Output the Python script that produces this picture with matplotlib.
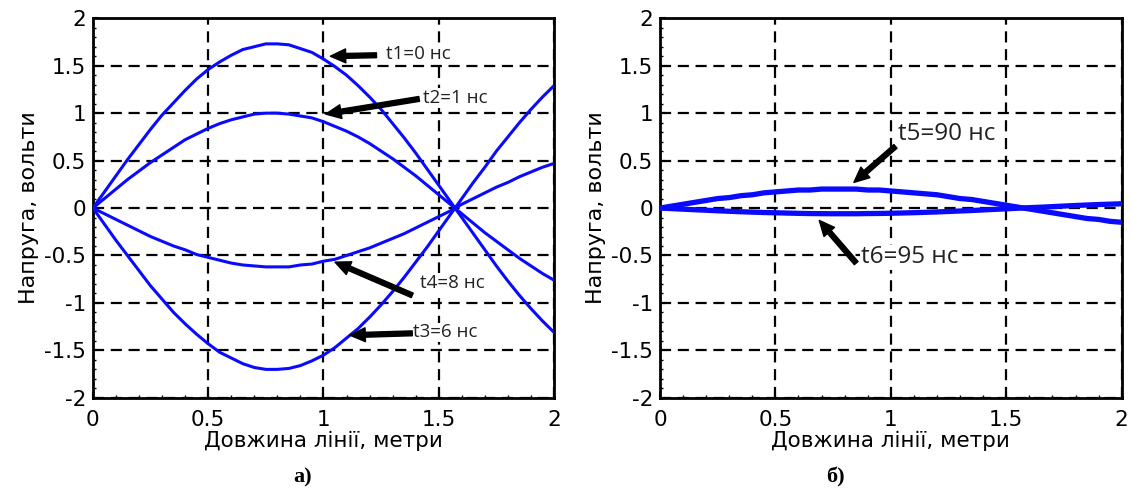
import numpy as np
import matplotlib
matplotlib.use('Agg')
import matplotlib.pyplot as plt
from matplotlib.ticker import MultipleLocator

# distance along the line, metres
x_m = [0.00, 0.05, 0.10, 0.15, 0.20, 0.25, 0.30, 0.35, 0.40, 0.45,
       0.50, 0.55, 0.60, 0.65, 0.70, 0.75, 0.80, 0.85, 0.90, 0.95,
       1.00, 1.05, 1.10, 1.15, 1.20, 1.25, 1.30, 1.35, 1.40, 1.45,
       1.50, 1.55, 1.60, 1.65, 1.70, 1.75, 1.80, 1.85, 1.90, 1.95, 2.00]

# voltage read off panel a)
v_t1 = [0, 0.17, 0.34, 0.51, 0.67, 0.83, 0.98, 1.11, 1.24, 1.36,
        1.46, 1.54, 1.61, 1.67, 1.70, 1.73, 1.73, 1.72, 1.68, 1.64,
        1.57, 1.49, 1.40, 1.29, 1.17, 1.04, 0.89, 0.74, 0.58, 0.41,
        0.24, 0.07, -0.10, -0.27, -0.44, -0.61, -0.77, -0.92, -1.06, -1.19, -1.31]
v_t2 = [0, 0.10, 0.20, 0.30, 0.39, 0.48, 0.56, 0.64, 0.72, 0.78,
        0.84, 0.89, 0.93, 0.96, 0.99, 1.00, 1.00, 0.99, 0.97, 0.95,
        0.91, 0.86, 0.81, 0.75, 0.68, 0.60, 0.52, 0.43, 0.34, 0.24,
        0.14, 0.04, -0.06, -0.16, -0.26, -0.35, -0.44, -0.53, -0.61, -0.69, -0.76]
v_t3 = [0, -0.17, -0.34, -0.50, -0.66, -0.82, -0.96, -1.10, -1.22, -1.33,
        -1.43, -1.52, -1.58, -1.64, -1.68, -1.70, -1.70, -1.69, -1.66, -1.61,
        -1.55, -1.47, -1.37, -1.27, -1.15, -1.02, -0.88, -0.73, -0.57, -0.41,
        -0.24, -0.07, 0.10, 0.27, 0.43, 0.60, 0.75, 0.90, 1.04, 1.17, 1.29]
v_t4 = [0, -0.06, -0.12, -0.18, -0.24, -0.30, -0.35, -0.40, -0.44, -0.49,
        -0.52, -0.55, -0.58, -0.60, -0.61, -0.62, -0.62, -0.62, -0.60, -0.59,
        -0.56, -0.54, -0.50, -0.46, -0.42, -0.37, -0.32, -0.27, -0.21, -0.15,
        -0.09, -0.03, 0.04, 0.10, 0.16, 0.22, 0.27, 0.33, 0.38, 0.43, 0.47]

# voltage read off panel б)
v_t5 = [0, 0.02, 0.04, 0.06, 0.08, 0.10, 0.11, 0.13, 0.14, 0.16,
        0.17, 0.18, 0.19, 0.19, 0.20, 0.20, 0.20, 0.20, 0.19, 0.19,
        0.18, 0.17, 0.16, 0.15, 0.14, 0.12, 0.10, 0.09, 0.07, 0.05,
        0.03, 0.01, -0.01, -0.03, -0.05, -0.07, -0.09, -0.11, -0.12, -0.14, -0.15]
v_t6 = [0, -0.006, -0.012, -0.018, -0.023, -0.029, -0.034, -0.039, -0.043, -0.047,
        -0.050, -0.053, -0.056, -0.058, -0.059, -0.060, -0.060, -0.060, -0.058, -0.057,
        -0.055, -0.052, -0.049, -0.045, -0.041, -0.036, -0.031, -0.026, -0.020, -0.014,
        -0.008, -0.002, 0.004, 0.009, 0.015, 0.021, 0.027, 0.032, 0.037, 0.041, 0.045]

labels_a = ['t1=0 нс', 't2=1 нс', 't3=6 нс', 't4=8 нс']
labels_b = ['t5=90 нс', 't6=95 нс']
x_ticks = [0, 0.5, 1, 1.5, 2]
x_ticklabels = ['0', '0.5', '1', '1.5', '2']
y_ticks = [-2, -1.5, -1, -0.5, 0, 0.5, 1, 1.5, 2]
y_ticklabels = ['-2', '-1.5', '-1', '-0.5', '0', '0.5', '1', '1.5', '2']

plt.rcParams['font.family'] = ['DejaVu Sans']

fig = plt.figure(figsize=(11.33, 4.93), dpi=100)
ax1 = fig.add_axes([0.082, 0.193, 0.407, 0.770])
ax2 = fig.add_axes([0.5825, 0.193, 0.4075, 0.770])

BLUE = '#0a0aff'


def style(ax):
    ax.set_xlim(0, 2)
    ax.set_ylim(-2, 2)
    ax.set_xticks(x_ticks)
    ax.set_xticklabels(x_ticklabels)
    ax.set_yticks(y_ticks)
    ax.set_yticklabels(y_ticklabels)
    ax.xaxis.set_minor_locator(MultipleLocator(0.1))
    ax.yaxis.set_minor_locator(MultipleLocator(0.1))
    ax.tick_params(which='major', direction='in', length=4, width=1.5,
                   labelsize=15.5)
    ax.tick_params(axis='x', which='major', pad=9)
    ax.tick_params(axis='y', which='major', pad=5)
    ax.tick_params(which='minor', direction='in', length=2, width=1)
    ax.grid(True, which='major', color='black', linestyle=(0, (5, 3)), linewidth=1.6)
    for sp in ax.spines.values():
        sp.set_linewidth(2)
    ax.set_xlabel('Довжина лінії, метри', fontsize=15.5, labelpad=0)
    ax.set_ylabel('Напруга, вольти', fontsize=16, labelpad=4)


style(ax1)
style(ax2)

for v in (v_t1, v_t2, v_t3, v_t4):
    ax1.plot(x_m, v, color=BLUE, linewidth=2.2, zorder=3)
for v in (v_t5, v_t6):
    ax2.plot(x_m, v, color=BLUE, linewidth=3.8, zorder=3)

arrow = dict(facecolor='black', edgecolor='black', width=3.5, headwidth=10,
             headlength=11, shrink=0)
txt = dict(family=['Open Sans', 'DejaVu Sans'], color='#222222', va='center',
           zorder=5, bbox=dict(facecolor='white', edgecolor='none', pad=0.5))

# arrow tip -> tail, then label
ax1.annotate('', xy=(1.03, 1.60), xytext=(1.23, 1.61), arrowprops=arrow, zorder=4)
ax1.text(1.27, 1.62, labels_a[0], fontsize=13.5, **txt)
ax1.annotate('', xy=(1.01, 0.99), xytext=(1.415, 1.15), arrowprops=arrow, zorder=4)
ax1.text(1.43, 1.16, labels_a[1], fontsize=13.5, **txt)
ax1.annotate('', xy=(1.115, -1.34), xytext=(1.385, -1.32), arrowprops=arrow, zorder=4)
ax1.text(1.39, -1.31, labels_a[2], fontsize=13.5, **txt)
ax1.annotate('', xy=(1.05, -0.57), xytext=(1.385, -0.92), arrowprops=arrow, zorder=4)
ax1.text(1.42, -0.79, labels_a[3], fontsize=13.5, **txt)

ax2.annotate('', xy=(0.84, 0.27), xytext=(1.02, 0.65), arrowprops=arrow, zorder=4)
ax2.text(1.03, 0.78, labels_b[0], fontsize=17.5, **txt)
ax2.annotate('', xy=(0.69, -0.13), xytext=(0.85, -0.58), arrowprops=arrow, zorder=4)
ax2.text(0.87, -0.52, labels_b[1], fontsize=17.5, **txt)

serif = ['Liberation Serif', 'DejaVu Serif']
fig.text(0.267, 0.032, 'а)', fontsize=16, fontweight='bold', family=serif,
         ha='center', va='center')
fig.text(0.737, 0.032, 'б)', fontsize=16, fontweight='bold', family=serif,
         ha='center', va='center')

fig.savefig('out.png', dpi=100)
